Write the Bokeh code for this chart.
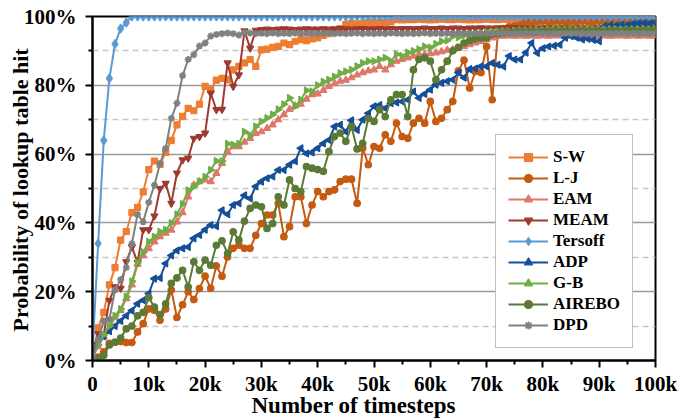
import math
from bokeh.plotting import figure
from bokeh.models import FixedTicker, Range1d, Legend, LegendItem, Title
from bokeh.embed import file_html
from bokeh.resources import INLINE

# ---------------- data ----------------
timesteps = list(range(0, 100001, 1000))

x_tick_values = [0, 10000, 20000, 30000, 40000, 50000, 60000, 70000, 80000, 90000, 100000]
x_tick_labels = ["0", "10k", "20k", "30k", "40k", "50k", "60k", "70k", "80k", "90k", "100k"]
y_tick_values = [0, 20, 40, 60, 80, 100]
y_tick_labels = ["0%", "20%", "40%", "60%", "80%", "100%"]

series_names = ["S-W", "L-J", "EAM", "MEAM", "Tersoff", "ADP", "G-B", "AIREBO", "DPD"]

s_w = [1.0, 9.5, 14.0, 22.0, 27.0, 35.0, 37.5, 43.0, 44.5, 49.0,
       55.5, 58.0, 57.0, 60.5, 64.0, 68.5, 71.0, 73.3, 72.6, 74.5,
       79.7, 78.7, 81.5, 82.0, 81.6, 84.5, 85.5, 86.5, 87.5, 85.5,
       90.3, 90.5, 91.0, 91.3, 92.3, 91.8, 92.8, 93.3, 93.0, 93.5,
       93.8, 94.5, 95.0, 95.8, 96.5, 97.7, 98.0, 97.8, 98.0, 98.2,
       98.2, 98.2, 98.3, 98.4, 99.1, 99.0, 99.1, 99.1, 99.2, 99.1,
       99.0, 99.1, 99.2, 99.1, 99.1, 99.2, 99.1, 99.0, 99.1, 99.1,
       99.2, 99.1, 99.1, 99.2, 99.1, 99.1, 99.1, 99.2, 99.1, 99.1,
       99.2, 99.1, 99.1, 99.1, 99.2, 99.1, 99.1, 99.2, 99.1, 99.1,
       99.1, 99.2, 99.1, 99.1, 99.1, 99.2, 99.1, 99.1, 99.1, 99.2,
       99.1]

l_j = [0.0, 1.0, 2.5, 5.0, 5.3, 5.5, 5.2, 5.2, 8.3, 10.7,
       15.0, 14.6, 11.7, 15.0, 20.5, 12.5, 16.2, 20.0, 17.7, 20.9,
       24.5, 21.0, 27.5, 24.5, 30.1, 32.6, 33.5, 32.6, 32.6, 36.4,
       39.8, 42.3, 42.3, 45.7, 36.0, 38.9, 47.6, 47.6, 39.8, 45.2,
       49.1, 47.6, 49.1, 49.6, 52.0, 52.7, 52.7, 45.7, 61.7, 56.9,
       62.2, 61.7, 65.6, 63.7, 69.0, 65.1, 64.6, 69.0, 70.4, 69.0,
       75.3, 69.5, 70.4, 72.9, 75.3, 84.2, 87.3, 79.2, 84.0, 83.7,
       91.3, 75.8, 95.0, 96.5, 97.0, 97.2, 97.5, 98.5, 98.5, 98.5,
       98.6, 98.5, 98.5, 98.6, 98.5, 98.5, 98.5, 98.6, 98.5, 98.5,
       98.6, 98.5, 98.5, 98.5, 98.6, 98.5, 98.5, 98.6, 98.5, 98.5,
       98.5]

eam = [1.0, 4.0, 7.0, 9.5, 12.5, 14.5, 18.0, 22.0, 28.0, 30.5,
       32.5, 34.5, 36.0, 37.0, 37.9, 40.3, 43.0, 47.6, 51.0, 52.0,
       52.5, 52.0, 54.4, 57.3, 60.7, 62.2, 62.2, 63.5, 64.6, 66.0,
       66.5, 67.5, 68.5, 70.0, 71.5, 73.0, 74.0, 74.5, 76.0, 77.3,
       77.5, 78.5, 79.7, 80.5, 81.2, 81.5, 82.2, 83.0, 83.7, 84.2,
       84.5, 85.5, 84.5, 86.0, 87.0, 87.5, 88.0, 88.5, 88.9, 89.0,
       89.2, 89.4, 89.8, 90.2, 90.4, 90.8, 91.3, 91.8, 92.3, 92.8,
       93.3, 93.8, 94.3, 94.3, 94.4, 94.3, 94.4, 94.3, 94.4, 94.3,
       94.4, 94.3, 94.4, 94.4, 94.3, 94.4, 94.3, 94.4, 94.3, 94.4,
       94.3, 94.4, 94.3, 94.4, 94.4, 94.3, 94.4, 94.3, 94.4, 94.3,
       94.4]

meam = [1.0, 7.8, 7.5, 17.5, 21.4, 21.0, 28.7, 33.0, 28.5, 38.0,
        38.0, 42.0, 50.0, 51.5, 45.7, 54.5, 58.3, 58.8, 64.6, 65.1,
        66.1, 77.7, 72.9, 73.0, 86.5, 79.7, 83.0, 95.8, 90.8, 96.0,
        96.2, 96.3, 96.2, 96.3, 96.4, 96.3, 96.2, 96.3, 96.4, 96.3,
        96.3, 96.4, 96.3, 96.4, 96.5, 96.4, 96.3, 96.4, 96.5, 96.4,
        96.4, 96.5, 96.4, 96.5, 96.4, 96.5, 96.5, 96.4, 96.5, 96.6,
        96.5, 96.5, 96.6, 96.5, 96.6, 96.6, 96.5, 96.6, 96.6, 96.7,
        96.6, 96.6, 96.7, 96.6, 96.7, 96.7, 96.6, 96.7, 96.7, 96.6,
        96.7, 96.7, 96.6, 96.7, 96.7, 96.6, 96.7, 96.7, 96.6, 96.7,
        96.7, 96.6, 96.7, 96.7, 96.6, 96.7, 96.7, 96.6, 96.7, 96.7,
        96.7]

tersoff = [2.0, 34.0, 64.0, 82.0, 92.0, 96.5, 98.2, 100.0, 100.0, 100.0,
           100.0, 100.0, 100.0, 100.0, 100.0, 100.0, 100.0, 100.0, 100.0, 100.0,
           100.0, 100.0, 100.0, 100.0, 100.0, 100.0, 100.0, 100.0, 100.0, 100.0,
           100.0, 100.0, 100.0, 100.0, 100.0, 100.0, 100.0, 100.0, 100.0, 100.0,
           100.0, 100.0, 100.0, 100.0, 100.0, 100.0, 100.0, 100.0, 100.0, 100.0,
           100.0, 100.0, 100.0, 100.0, 100.0, 100.0, 100.0, 100.0, 100.0, 100.0,
           100.0, 100.0, 100.0, 100.0, 100.0, 100.0, 100.0, 100.0, 100.0, 100.0,
           100.0, 100.0, 100.0, 100.0, 100.0, 100.0, 100.0, 100.0, 100.0, 100.0,
           100.0, 100.0, 100.0, 100.0, 100.0, 100.0, 100.0, 100.0, 100.0, 100.0,
           100.0, 100.0, 100.0, 100.0, 100.0, 100.0, 100.0, 100.0, 100.0, 100.0,
           100.0]

adp = [2.0, 5.0, 7.0, 8.5, 10.0, 11.5, 13.0, 14.5, 16.5, 17.5,
       19.5, 23.8, 24.0, 28.2, 30.5, 32.0, 32.6, 33.0, 35.5, 36.5,
       38.0, 39.4, 39.0, 43.7, 42.5, 45.2, 45.7, 48.0, 47.1, 50.6,
       52.0, 53.0, 53.5, 55.4, 55.4, 56.9, 57.9, 61.7, 60.2, 60.5,
       61.7, 63.1, 64.1, 68.0, 68.5, 66.5, 69.8, 67.0, 70.0, 71.9,
       73.9, 74.3, 73.3, 74.8, 75.0, 75.3, 75.8, 78.2, 76.3, 77.5,
       78.7, 80.2, 80.7, 81.2, 81.6, 83.7, 82.2, 84.7, 84.9, 85.5,
       85.5, 86.5, 86.0, 85.5, 88.5, 87.5, 87.5, 89.5, 92.3, 89.4,
       90.8, 91.3, 91.5, 91.8, 93.8, 94.3, 93.8, 93.3, 93.5, 93.2,
       92.8, 97.2, 97.5, 97.3, 97.6, 97.5, 97.8, 98.0, 98.1, 98.0,
       98.3]

g_b = [1.5, 4.5, 7.5, 10.0, 13.0, 15.0, 18.5, 23.0, 28.5, 31.5,
       34.5, 36.0, 37.4, 38.0, 40.0, 42.5, 45.5, 49.5, 50.6, 52.0,
       53.4, 55.4, 58.0, 57.9, 63.0, 62.7, 63.0, 66.5, 65.5, 68.0,
       69.5, 70.5, 71.5, 73.0, 74.5, 76.3, 73.9, 75.8, 78.5, 78.2,
       80.0, 81.0, 81.6, 82.5, 83.5, 84.0, 84.5, 85.5, 86.5, 87.0,
       87.0, 87.5, 88.0, 87.0, 89.0, 88.5, 89.5, 90.0, 90.5, 91.3,
       91.0, 92.0, 92.8, 93.0, 94.3, 94.0, 94.5, 94.8, 95.0, 95.2,
       95.5, 95.6, 95.7, 95.8, 95.8, 95.9, 96.0, 96.0, 96.1, 96.0,
       96.1, 96.2, 96.1, 96.2, 96.2, 96.1, 96.2, 96.3, 96.2, 96.2,
       96.3, 96.2, 96.3, 96.3, 96.2, 96.3, 96.3, 96.2, 96.3, 96.3,
       96.3]

airebo = [0.0, 0.5, 1.5, 4.5, 5.3, 6.5, 9.2, 10.0, 13.0, 14.0,
          18.3, 15.5, 13.3, 16.5, 22.4, 24.0, 26.2, 21.4, 28.7, 26.2,
          29.2, 27.7, 33.5, 34.8, 31.1, 37.4, 35.0, 40.5, 44.2, 45.2,
          44.7, 38.4, 39.8, 47.6, 45.2, 52.5, 50.0, 49.1, 56.4, 55.9,
          55.5, 55.0, 60.7, 65.1, 66.1, 63.7, 68.0, 61.5, 63.1, 70.4,
          69.5, 72.9, 70.9, 75.8, 77.3, 77.3, 70.9, 84.5, 87.5, 88.0,
          87.0, 81.6, 84.5, 87.0, 90.0, 91.0, 92.3, 93.0, 93.5, 93.8,
          93.8, 94.8, 95.0, 95.2, 95.3, 95.4, 95.5, 95.5, 95.6, 95.5,
          95.6, 95.7, 95.6, 95.7, 95.7, 95.6, 95.7, 95.8, 95.7, 95.7,
          95.8, 95.7, 95.8, 95.8, 95.7, 95.8, 95.8, 95.7, 95.8, 95.8,
          95.8]

dpd = [0.0, 6.0, 11.5, 12.0, 20.5, 23.5, 27.0, 34.0, 42.5, 40.3,
       46.0, 51.0, 57.3, 61.7, 70.4, 74.8, 82.8, 87.5, 88.9, 91.4,
       92.3, 94.3, 94.8, 95.0, 95.2, 95.0, 94.6, 95.4, 95.2, 95.0,
       95.1, 95.0, 95.2, 95.0, 95.1, 95.0, 95.2, 95.1, 95.0, 95.1,
       95.0, 95.1, 95.2, 95.0, 95.1, 95.0, 95.1, 95.2, 95.0, 95.1,
       95.0, 95.1, 95.0, 95.2, 95.1, 95.0, 95.1, 95.0, 95.1, 95.2,
       95.0, 95.1, 95.0, 95.1, 95.0, 95.2, 95.1, 95.0, 95.1, 95.0,
       95.1, 95.0, 95.2, 95.1, 95.0, 95.1, 95.0, 95.1, 95.0, 95.2,
       95.1, 95.0, 95.1, 95.0, 95.1, 95.0, 95.2, 95.1, 95.0, 95.1,
       95.0, 95.1, 95.0, 95.1, 95.2, 95.0, 95.1, 95.0, 95.1, 95.0,
       95.1]

series_values = [s_w, l_j, eam, meam, tersoff, adp, g_b, airebo, dpd]
for v in series_values:
    assert len(v) == len(timesteps), len(v)

# ---------------- styles ----------------
colors = ["#ED7D31", "#C55A11", "#DE786B", "#9C3A30", "#5B9BD5",
          "#144F98", "#70AD47", "#5A7A36", "#808080"]
markers = ["square", "circle", "triangle", "inverted_triangle", "diamond",
           "triangle", "triangle", "circle", "asterisk"]
angles = [0, 0, 0, 0, 0, math.pi / 2, -math.pi / 2, 0, 0]
msizes = [6, 6.5, 7, 7, 9, 7, 7, 6.5, 7]

FONT = "Liberation Serif"

p = figure(width=683, height=419, output_backend="svg", toolbar_location=None,
           x_range=Range1d(0, 100000), y_range=Range1d(0, 100),
           min_border_left=92, min_border_right=28, min_border_top=16,
           min_border_bottom=59)
p.background_fill_color = "white"
p.border_fill_color = "white"
p.outline_line_color = "black"
p.outline_line_width = 2
p.outline_line_alpha = 1.0

x_minor = [(a + b) / 2 for a, b in zip(x_tick_values[:-1], x_tick_values[1:])]
y_minor = [(a + b) / 2 for a, b in zip(y_tick_values[:-1], y_tick_values[1:])]
p.xaxis.ticker = FixedTicker(ticks=x_tick_values, minor_ticks=x_minor)
p.yaxis.ticker = FixedTicker(ticks=y_tick_values, minor_ticks=y_minor)
p.xaxis.major_label_overrides = {v: t for v, t in zip(x_tick_values, x_tick_labels)}
p.yaxis.major_label_overrides = {v: t for v, t in zip(y_tick_values, y_tick_labels)}

for ax in (p.xaxis[0], p.yaxis[0]):
    ax.axis_line_color = "black"
    ax.axis_line_width = 2
    ax.major_tick_line_color = "black"
    ax.major_tick_line_width = 2
    ax.minor_tick_line_color = "black"
    ax.minor_tick_line_width = 2
    ax.major_tick_in = 0
    ax.major_tick_out = 7
    ax.minor_tick_in = 0
    ax.minor_tick_out = 4
    ax.major_label_text_font = FONT
    ax.major_label_text_font_size = "21px"
    ax.major_label_text_font_style = "bold"
    ax.major_label_text_color = "black"
p.xaxis.major_label_standoff = 4
p.yaxis.major_label_standoff = 9

p.xgrid.visible = False
p.ygrid.grid_line_color = "#9a9a9a"
p.ygrid.grid_line_width = 1.6
p.ygrid.minor_grid_line_color = "#c8c8c8"
p.ygrid.minor_grid_line_width = 1.3
p.ygrid.minor_grid_line_dash = "6 4"

items = []
for name, vals, c, m, a, s in zip(series_names, series_values, colors, markers, angles, msizes):
    lr = p.line(timesteps, vals, line_color=c, line_width=2)
    sr = p.scatter(timesteps, vals, marker=m, size=s, angle=a,
                   fill_color=c, line_color=c, line_width=1.2 if m != "asterisk" else 1.8)
    items.append(LegendItem(label=name, renderers=[lr, sr]))

legend = Legend(items=items, location=(403, 12))
legend.label_text_font = FONT
legend.label_text_font_size = "17px"
legend.label_text_font_style = "bold"
legend.label_text_color = "black"
legend.glyph_width = 40
legend.glyph_height = 20
legend.label_height = 20
legend.label_width = 64
legend.label_standoff = 5
legend.spacing = 1
legend.padding = 12
legend.margin = 0
legend.border_line_color = "#7f7f7f"
legend.border_line_width = 1.5
legend.background_fill_color = "white"
legend.background_fill_alpha = 1.0
p.add_layout(legend, "center")

ytitle = Title(text="Probability of lookup table hit", align="left", offset=29,
               vertical_align="middle", standoff=-28,
               text_font=FONT, text_font_size="22px", text_font_style="bold",
               text_color="black")
xtitle = Title(text="Number of timesteps", align="left", offset=159,
               vertical_align="bottom", standoff=-16,
               text_font=FONT, text_font_size="23px", text_font_style="bold",
               text_color="black")
p.add_layout(ytitle, "left")
p.add_layout(xtitle, "below")

open("out.html", "w").write(file_html(p, INLINE))
